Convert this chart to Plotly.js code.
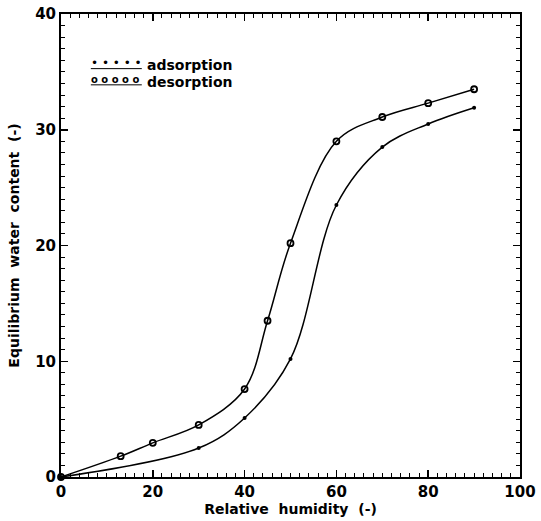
<!DOCTYPE html>
<html>
<head>
<meta charset="utf-8">
<script src="https://cdn.plot.ly/plotly-3.0.1.min.js"></script>
<style>html,body{margin:0;padding:0;background:#fff;}#chart{width:541px;height:521px;}</style>
</head>
<body>
<div id="chart"></div>
<script>
// Relative humidity (-) and equilibrium water content (-)
var adsorptionRH = [0, 30, 40, 50, 60, 70, 80, 90];
var adsorptionEMC = [0, 2.5, 5.1, 10.2, 23.5, 28.5, 30.5, 31.9];
var desorptionRH = [0, 13, 20, 30, 40, 45, 50, 60, 70, 80, 90];
var desorptionEMC = [0, 1.8, 2.95, 4.5, 7.6, 13.5, 20.2, 29.0, 31.1, 32.3, 33.5];
var xTicks = [0, 20, 40, 60, 80, 100];
var yTicks = [0, 10, 20, 30, 40];
var seriesNames = ['adsorption', 'desorption'];

var font = 'DejaVu Sans, Liberation Sans, sans-serif';
var sp = '\u00a0\u00a0';

var traces = [
  {
    x: adsorptionRH, y: adsorptionEMC, name: seriesNames[0],
    mode: 'lines+markers', type: 'scatter', cliponaxis: false,
    line: {color: '#000', width: 1.5, shape: 'spline', smoothing: 1.0},
    marker: {symbol: 'circle', size: 4, color: '#000'}
  },
  {
    x: desorptionRH, y: desorptionEMC, name: seriesNames[1],
    mode: 'lines+markers', type: 'scatter', cliponaxis: false,
    line: {color: '#000', width: 1.5, shape: 'spline', smoothing: 1.0},
    marker: {symbol: 'circle-open', size: 6, color: '#000', line: {width: 1.8, color: '#000'}}
  }
];

var layout = {
  width: 541, height: 521,
  margin: {l: 61, r: 21, t: 14, b: 44, pad: 0},
  paper_bgcolor: '#fff', plot_bgcolor: '#fff',
  showlegend: false,
  font: {family: font, color: '#000', size: 15},
  xaxis: {
    range: [0, 100], tickvals: xTicks, ticktext: xTicks.map(String),
    ticks: 'inside', ticklen: 7, tickwidth: 1.5, tickcolor: '#000',
    minor: {dtick: 2, ticks: 'inside', ticklen: 4, tickwidth: 1, tickcolor: '#000'},
    showline: true, linewidth: 2, linecolor: '#000', mirror: 'ticks',
    showgrid: false, zeroline: false,
    tickfont: {family: font, size: 15, weight: 'bold'},
    title: {text: 'Relative' + sp + 'humidity' + sp + '(-)', font: {family: font, size: 14, weight: 'bold'}, standoff: 2}
  },
  yaxis: {
    range: [0, 40], tickvals: yTicks, ticktext: yTicks.map(String),
    ticks: 'inside', ticklen: 7, tickwidth: 1.5, tickcolor: '#000',
    minor: {dtick: 1, ticks: 'inside', ticklen: 4, tickwidth: 1, tickcolor: '#000'},
    showline: true, linewidth: 2, linecolor: '#000', mirror: 'ticks',
    showgrid: false, zeroline: false,
    tickfont: {family: font, size: 15, weight: 'bold'},
    title: {text: 'Equilibrium' + sp + 'water' + sp + 'content' + sp + '(-)', font: {family: font, size: 14, weight: 'bold'}, standoff: 12}
  },
  shapes: [
    {type: 'line', xref: 'paper', yref: 'paper', x0: 0.065, x1: 0.176, y0: 0.882, y1: 0.882, line: {color: '#000', width: 1}},
    {type: 'line', xref: 'paper', yref: 'paper', x0: 0.065, x1: 0.176, y0: 0.847, y1: 0.847, line: {color: '#000', width: 1}}
  ],
  annotations: [
    {xref: 'paper', yref: 'paper', x: 0.062, y: 0.895, xanchor: 'left', yanchor: 'middle', showarrow: false,
     text: '•\u00a0•\u00a0•\u00a0•\u00a0•', font: {family: font, size: 12, color: '#000'}},
    {xref: 'paper', yref: 'paper', x: 0.062, y: 0.859, xanchor: 'left', yanchor: 'middle', showarrow: false,
     text: 'o\u00a0o\u00a0o\u00a0o\u00a0o', font: {family: font, size: 10, weight: 'bold', color: '#000'}},
    {xref: 'paper', yref: 'paper', x: 0.183, y: 0.889, xanchor: 'left', yanchor: 'middle', showarrow: false,
     text: seriesNames[0], font: {family: font, size: 14, weight: 'bold', color: '#000'}},
    {xref: 'paper', yref: 'paper', x: 0.183, y: 0.853, xanchor: 'left', yanchor: 'middle', showarrow: false,
     text: seriesNames[1], font: {family: font, size: 14, weight: 'bold', color: '#000'}}
  ]
};

Plotly.newPlot('chart', traces, layout, {displayModeBar: false, staticPlot: true});
</script>
</body>
</html>
